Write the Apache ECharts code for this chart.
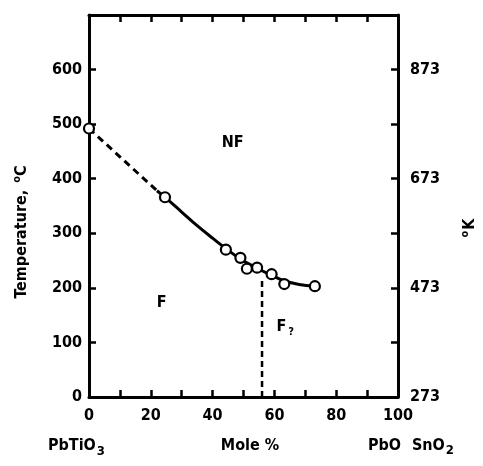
<!DOCTYPE html>
<html>
<head>
<meta charset="utf-8">
<script src="https://cdn.jsdelivr.net/npm/echarts@6/dist/echarts.min.js"></script>
<style>html,body{margin:0;padding:0;background:#fff}#c{width:483px;height:466px}</style>
</head>
<body>
<div id="c"></div>
<script>
// Measured points (mole %, temperature °C)
const measured = [[0,492],[24.6,366],[44.3,270],[49,255],[51.1,235],[54.4,237],[59.1,225],[63.2,207],[73.1,203]];
// Phase boundary: dashed extrapolation and solid smooth curve
const boundaryDashed = [[0,492],[22,378]];
const boundarySolid = [[22,378],[25,364],[30,339],[35,314],[40,291],[44.3,272],[49,253],[54.4,236],[59.1,223],[63.2,213],[68,206],[73.1,203]];
// Vertical dashed boundary F / F?
const verticalBoundary = [[56,0],[56,218]];
// Region labels [x, y, text]
const regionLabels = [[46.5,466,'NF'],[23.5,172,'F'],[63.5,128,'F{sub|?}']];
const xTicks = [0,20,40,60,80,100];
const yTicksC = [0,100,200,300,400,500,600];
const yTicksK = [273,473,673,873];

const FONT = "'DejaVu Sans Condensed','Liberation Sans Narrow',sans-serif";
const chart = echarts.init(document.getElementById('c'));
const axisLine = {show:true, onZero:false, lineStyle:{color:'#000', width:3}};
const tick = {show:true, inside:true, length:7, lineStyle:{color:'#000', width:2.5}};
const lbl = {fontFamily:FONT, fontWeight:'bold', fontSize:16, color:'#000'};
chart.setOption({
  animation:false,
  backgroundColor:'#fff',
  grid:{left:89, right:85, top:15, bottom:69, show:false},
  xAxis:[
    {type:'value', min:0, max:100, interval:10, position:'bottom', axisLine, axisTick:tick, splitLine:{show:false},
     axisLabel:Object.assign({margin:11, formatter:v=>xTicks.includes(v)?String(v):''}, lbl)},
    {type:'value', min:0, max:100, interval:10, position:'top', axisLine, axisTick:tick, splitLine:{show:false}, axisLabel:{show:false}}
  ],
  yAxis:[
    {type:'value', min:0, max:700, interval:100, position:'left', axisLine, axisTick:tick, splitLine:{show:false},
     axisLabel:Object.assign({margin:7, formatter:v=>yTicksC.includes(v)?String(v):''}, lbl)},
    {type:'value', min:0, max:700, interval:100, position:'right', axisLine, axisTick:tick, splitLine:{show:false},
     axisLabel:Object.assign({margin:12, formatter:v=>yTicksK.includes(v+273)?String(v+273):''}, lbl)}
  ],
  series:[
    {type:'line', data:boundaryDashed, symbol:'none', lineStyle:{color:'#000', width:3, type:[7,5]}, z:3},
    {type:'line', data:boundarySolid, smooth:0.4, symbol:'none', lineStyle:{color:'#000', width:3}, z:3},
    {type:'line', data:verticalBoundary, symbol:'none', lineStyle:{color:'#000', width:2.5, type:[6,4]}, z:3},
    {type:'scatter', data:measured, symbol:'circle', symbolSize:10, clip:false,
     itemStyle:{color:'#fff', borderColor:'#000', borderWidth:2.2, opacity:1}, z:5},
    {type:'scatter', data:regionLabels.map(d=>({value:[d[0],d[1]], name:d[2]})), symbolSize:0,
     itemStyle:{opacity:1},
     label:{show:true, position:'inside', formatter:p=>p.name, fontFamily:FONT, fontWeight:'bold', fontSize:16, color:'#000',
       rich:{sub:{fontFamily:FONT, fontWeight:'bold', fontSize:11, color:'#000', verticalAlign:'bottom', padding:[10,0,0,2]}}}, z:6}
  ],
  graphic:[
    {type:'text', x:22, y:232, rotation:Math.PI/2, style:{text:'Temperature, {sup|o}C', align:'center', verticalAlign:'middle',
      font:"bold 16px 'DejaVu Sans Condensed'", fill:'#000',
      rich:{sup:{font:"bold 11px 'DejaVu Sans Condensed'", fill:'#000', padding:[0,0,10,2]}}}},
    {type:'text', x:470, y:228, rotation:Math.PI/2, style:{text:'{sup|o}K', align:'center', verticalAlign:'middle',
      font:"bold 16px 'DejaVu Sans Condensed'", fill:'#000',
      rich:{sup:{font:"bold 11px 'DejaVu Sans Condensed'", fill:'#000', padding:[0,1,10,0]}}}},
    {type:'text', x:48, y:446, style:{text:'PbTiO{sub|3}', align:'left', verticalAlign:'middle',
      font:"bold 16px 'DejaVu Sans Condensed'", fill:'#000',
      rich:{sub:{font:"bold 13px 'DejaVu Sans Condensed'", fill:'#000', padding:[12,0,0,1]}}}},
    {type:'text', x:250, y:446, style:{text:'Mole %', align:'center', verticalAlign:'middle',
      font:"bold 16px 'DejaVu Sans Condensed'", fill:'#000'}},
    {type:'text', x:368, y:446, style:{text:'PbO', align:'left', verticalAlign:'middle',
      font:"bold 16px 'DejaVu Sans Condensed'", fill:'#000'}},
    {type:'text', x:412, y:446, style:{text:'SnO{sub|2}', align:'left', verticalAlign:'middle',
      font:"bold 16px 'DejaVu Sans Condensed'", fill:'#000',
      rich:{sub:{font:"bold 13px 'DejaVu Sans Condensed'", fill:'#000', padding:[10,0,0,1]}}}}
  ]
});
</script>
</body>
</html>
